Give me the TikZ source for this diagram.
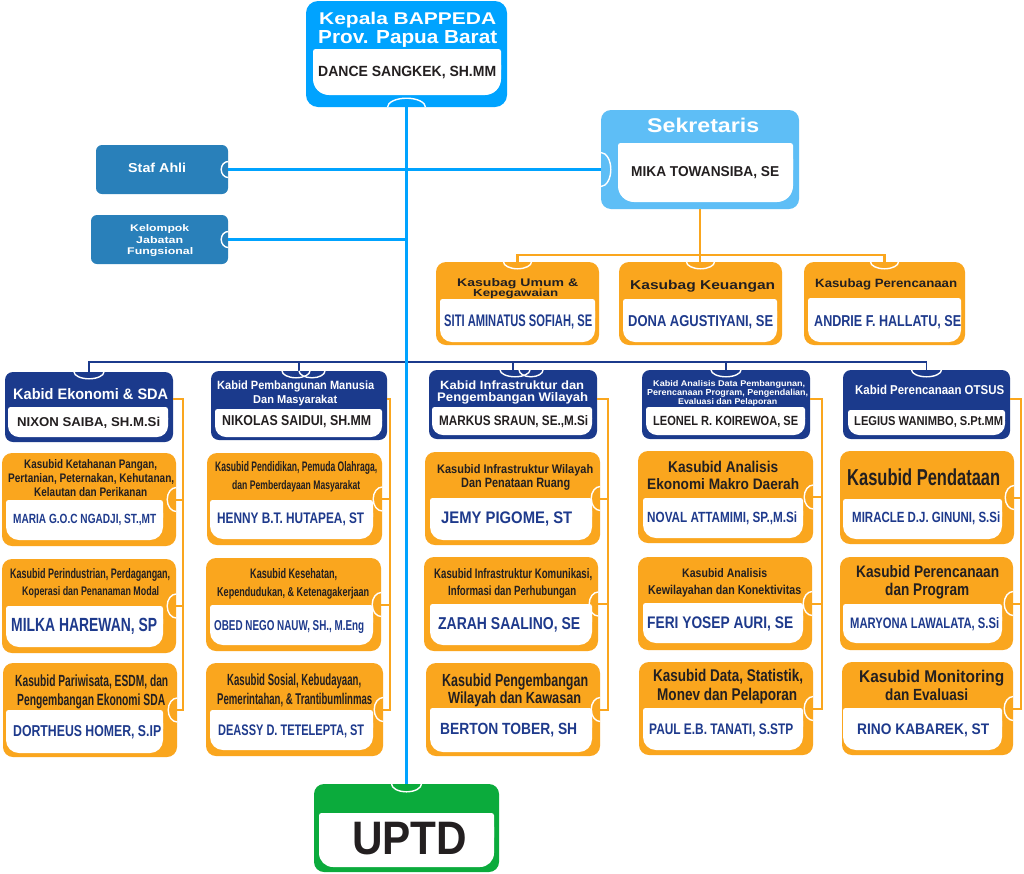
\documentclass[tikz,border=0pt]{standalone}
\usepackage{fontspec}
\setmainfont{Liberation Sans}
\usepackage{graphicx}
\usetikzlibrary{fit,calc}
\definecolor{cblue}{RGB}{0,163,255}
\definecolor{csek}{RGB}{94,190,246}
\definecolor{cstaf}{RGB}{41,128,186}
\definecolor{cnavy}{RGB}{27,58,140}
\definecolor{corange}{RGB}{250,166,30}
\definecolor{cgreen}{RGB}{11,171,60}
\definecolor{cdark}{RGB}{35,31,32}
\definecolor{cname}{RGB}{30,58,140}
% box: [radius]{name}{colour}{x1,y1}{x2,y2}
\newcommand\bx[5][10pt]{\fill[#3,rounded corners=#1] (#4) rectangle (#5);
  \node[inner sep=0pt,fit={(#4)(#5)}] (#2) {};}
% inner white panel
\newcommand\inr[5][12pt]{\fill[white,rounded corners=#1] (#2,#3) rectangle (#4,#5);
  \fill[white,rounded corners=2.5pt] (#2,#3) rectangle (#4,{(#3+#5)/2});}
% text: name, x, baseline, width, height, colour, text
\newcommand\tx[7]{\node[txt,text=#6] (#1) at (#2,#3) {\resizebox{#4pt}{#5pt}{#7}};}
% ports
\newcommand\ptop[3]{\draw[port] ([xshift=-#2pt]#1) arc[start angle=180,end angle=360,x radius=#2pt,y radius=#3pt];}
\newcommand\pbot[3]{\draw[port] ([xshift=-#2pt]#1) arc[start angle=180,end angle=0,x radius=#2pt,y radius=#3pt];}
\newcommand\pright[3]{\draw[port] ([yshift=#2pt]#1) arc[start angle=90,end angle=270,x radius=#3pt,y radius=#2pt];}
\newcommand\pleft[3]{\draw[port] ([yshift=#2pt]#1) arc[start angle=90,end angle=-90,x radius=#3pt,y radius=#2pt];}
\begin{document}
\begin{tikzpicture}[x=1pt,y=-1pt,
  port/.style={draw=white,line width=1.4pt},
  bline/.style={draw=cblue,line width=2.6pt},
  nline/.style={draw=cnavy,line width=1.8pt},
  oline/.style={draw=corange,line width=2pt},
  obus/.style={draw=corange,line width=2.7pt},
  txt/.style={anchor=base west,inner sep=0pt,font=\bfseries}]
\useasboundingbox[fill=white] (0,0) rectangle (1024,873);

% ---------- boxes ----------
\bx[12pt]{kep}{cblue}{306,1}{507,107} \inr[16pt]{313}{49}{501}{95}
\bx[10pt]{sek}{csek}{601,110}{799,209} \inr[16pt]{618}{143}{793}{202}
\bx[6pt]{staf}{cstaf}{96,145}{228,194}
\bx[6pt]{kjf}{cstaf}{91,215}{228,264}
\bx{ks1}{corange}{436,262}{599,345} \inr{440}{299}{595}{342}
\bx{ks2}{corange}{619,262}{782,345} \inr{623}{299}{777}{342}
\bx{ks3}{corange}{804,262}{965,345} \inr{808}{298}{961}{342}

\bx[8pt]{kb1}{cnavy}{5,372}{173,442} \inr[11pt]{8}{407}{168}{437}
\bx[8pt]{kb2}{cnavy}{211,371}{387,440} \inr[11pt]{215}{409}{382}{437}
\bx[8pt]{kb3}{cnavy}{429,370}{597,439} \inr[11pt]{432}{407}{592}{435}
\bx[8pt]{kb4}{cnavy}{642,370}{810,439}
\tx{t42c}{678}{404}{99}{6}{white}{Evaluasi dan Pelaporan}
\inr[11pt]{646}{407}{805}{435}
\bx[8pt]{kb5}{cnavy}{843,370}{1010,439} \inr[11pt]{848}{410}{1005}{435}

\bx{s11}{corange}{2,453}{176,546} \inr[13pt]{6}{500}{163}{540}
\bx{s12}{corange}{2,559}{176,653} \inr[13pt]{6}{606}{163}{647}
\bx{s13}{corange}{3,663}{177,757} \inr[13pt]{6}{710}{163}{753}
\bx{s21}{corange}{207,453}{382,545} \inr[13pt]{210}{500}{373}{539}
\bx{s22}{corange}{206,558}{381,651} \inr[13pt]{210}{605}{373}{645}
\bx{s23}{corange}{206,663}{383,756} \inr[13pt]{210}{710}{373}{750}
\bx{s31}{corange}{425,452}{600,545} \inr[13pt]{430}{498}{592}{540}
\bx{s32}{corange}{424,557}{598,651} \inr[13pt]{430}{604}{592}{645}
\bx{s33}{corange}{426,663}{600,756} \inr[13pt]{430}{708}{592}{752}
\bx{s41}{corange}{638,451}{813,543} \inr[13pt]{643}{498}{803}{538}
\bx{s42}{corange}{638,557}{812,650} \inr[13pt]{643}{603}{803}{643}
\bx{s43}{corange}{639,662}{813,755} \inr[13pt]{643}{708}{803}{750}
\bx{s51}{corange}{840,451}{1014,544} \inr[13pt]{843}{499}{1002}{539}
\bx{s52}{corange}{840,557}{1013,650} \inr[13pt]{843}{604}{1002}{643}
\bx{s53}{corange}{842,662}{1013,755} \inr[13pt]{843}{708}{1002}{750}

\bx[10pt]{uptd}{cgreen}{314,784}{499,872} \inr[14pt]{319}{813}{494}{867}

% ---------- connectors ----------
\coordinate (bus) at (408,362);
\draw[nline] (kb1.north) |- (bus) -| (kb5.north);
\foreach \k in {kb2,kb3,kb4} \draw[nline] (\k.north) -- (\k.north |- bus);
\draw[bline] (kep.south) -- (uptd.north);
\draw[bline] (staf.east) -- (staf.east -| sek.west);
\draw[bline] (kjf.east) -- (kjf.east -| kep.south);
\coordinate (kbus) at (702,255);
\draw[obus] (ks1.north) |- (kbus) -| (ks3.north);
\draw[obus] (sek.south) -- (sek.south |- ks2.north);
\coordinate (c1) at (183,399);
\coordinate (c2) at (390,399);
\coordinate (c3) at (608,399);
\coordinate (c4) at (822,399);
\coordinate (c5) at (1021,399);
\foreach \i in {1,...,5} {
  \draw[oline] (c\i -| kb\i.east) -- (c\i) |- (s\i3.east);
  \draw[oline] (s\i1.east) -- (s\i1.east -| c\i);
  \draw[oline] (s\i2.east) -- (s\i2.east -| c\i);
}

% ---------- ports ----------
\pbot{kep.south}{19}{9}
\coordinate (sekw) at (staf.east -| sek.west);
\pleft{sekw}{17}{10}
\pright{staf.east}{8}{7}
\pright{kjf.east}{8}{7}
\foreach \k in {ks1,ks2,ks3} {\ptop{\k.north}{14}{7}}
\ptop{kb1.north}{15}{7}
\coordinate (p2a) at ($(kb2.north)+(-3,0)$);
\coordinate (p2b) at ($(kb2.north)+(13,0)$);
\coordinate (p3a) at ($(kb3.north)+(2,0)$);
\coordinate (p3b) at ($(kb3.north)+(18,0)$);
\ptop{p2a}{14}{7} \ptop{p2b}{13}{7}
\ptop{p3a}{15}{7} \ptop{p3b}{12}{7}
\ptop{kb4.north}{15}{7}
\ptop{kb5.north}{15}{7}
\foreach \i in {1,...,5} {\foreach \j in {1,2,3} {\pright{s\i\j.east}{12}{9}}}
\ptop{uptd.north}{15}{8}

% ---------- texts ----------
\tx{t01}{319}{24}{177}{12.3}{white}{Kepala BAPPEDA}
\tx{t02}{318}{43}{179}{13}{white}{Prov. Papua Barat}
\tx{t03}{318}{76}{178}{10.3}{cdark}{DANCE SANGKEK, SH.MM}
\tx{t04}{647}{132.7}{112}{14.4}{white}{Sekretaris}
\tx{t05}{631}{176.7}{148}{10}{cdark}{MIKA TOWANSIBA, SE}
\tx{t06}{128}{172.7}{58}{9.4}{white}{Staf Ahli}
\tx{t07}{130}{231.5}{59}{7}{white}{Kelompok}
\tx{t08}{136}{243}{47}{7}{white}{Jabatan}
\tx{t09}{127}{254.5}{66}{7}{white}{Fungsional}

\tx{t10}{457}{286}{121}{8}{cdark}{Kasubag Umum \&}
\tx{t11}{473}{296.7}{85}{7.5}{cdark}{Kepegawaian}
\tx{t12}{444}{326}{148}{11.7}{cname}{SITI AMINATUS SOFIAH, SE}
\tx{t13}{630}{289.3}{145}{9.3}{cdark}{Kasubag Keuangan}
\tx{t14}{628}{326}{145}{11}{cname}{DONA AGUSTIYANI, SE}
\tx{t15}{815}{287.7}{142}{8.7}{cdark}{Kasubag Perencanaan}
\tx{t16}{814}{326}{147}{11}{cname}{ANDRIE F. HALLATU, SE}

% column 1
\tx{t17}{13}{399.3}{155}{11}{white}{Kabid Ekonomi \& SDA}
\tx{t18}{17}{426.7}{143}{9.3}{cdark}{NIXON SAIBA, SH.M.Si}
\tx{t19}{24}{468.3}{133}{9}{cdark}{Kasubid Ketahanan Pangan,}
\tx{t20}{8}{482.7}{166}{9}{cdark}{Pertanian, Peternakan, Kehutanan,}
\tx{t21}{34}{496.7}{113}{9}{cdark}{Kelautan dan Perikanan}
\tx{t22}{13}{523.3}{143}{9.3}{cname}{MARIA G.O.C NGADJI, ST.,MT}
\tx{t23}{10}{578.3}{160}{10}{cdark}{Kasubid Perindustrian, Perdagangan,}
\tx{t24}{22}{595.7}{137}{9}{cdark}{Koperasi dan Penanaman Modal}
\tx{t25}{11}{631.7}{146}{13.3}{cname}{MILKA HAREWAN, SP}
\tx{t26}{15}{686}{153}{11.7}{cdark}{Kasubid Pariwisata, ESDM, dan}
\tx{t27}{17}{705}{148}{11.7}{cdark}{Pengembangan Ekonomi SDA}
\tx{t28}{13}{736}{148}{11}{cname}{DORTHEUS HOMER, S.IP}

% column 2
\tx{t29}{217}{389.3}{157}{8.7}{white}{Kabid Pembangunan Manusia}
\tx{t30}{253}{403.3}{84}{8.3}{white}{Dan Masyarakat}
\tx{t31}{222}{425}{149}{10}{cdark}{NIKOLAS SAIDUI, SH.MM}
\tx{t32}{215}{471.7}{162}{10}{cdark}{Kasubid Pendidikan, Pemuda Olahraga,}
\tx{t33}{232}{489.3}{128}{9}{cdark}{dan Pemberdayaan Masyarakat}
\tx{t34}{217}{523.3}{147}{10.7}{cname}{HENNY B.T. HUTAPEA, ST}
\tx{t35}{250}{578.3}{87}{10}{cdark}{Kasubid Kesehatan,}
\tx{t36}{217}{596}{152}{9.3}{cdark}{Kependudukan, \& Ketenagakerjaan}
\tx{t37}{214}{630.7}{150}{10}{cname}{OBED NEGO NAUW, SH., M.Eng}
\tx{t38}{227}{685}{134}{11.7}{cdark}{Kasubid Sosial, Kebudayaan,}
\tx{t39}{217}{704}{155}{11.3}{cdark}{Pemerintahan, \& Trantibumlinmas}
\tx{t40}{218}{735.7}{146}{10.7}{cname}{DEASSY D. TETELEPTA, ST}

% column 3
\tx{t41}{440}{389.3}{144}{8.7}{white}{Kabid Infrastruktur dan}
\tx{t43}{437}{401.7}{151}{9}{white}{Pengembangan Wilayah}
\tx{t44}{439}{425}{149}{10}{cdark}{MARKUS SRAUN, SE.,M.Si}
\tx{t45}{437}{473.3}{156}{9}{cdark}{Kasubid Infrastruktur Wilayah}
\tx{t46}{461}{487.7}{109}{9.3}{cdark}{Dan Penataan Ruang}
\tx{t47}{441}{523.3}{131}{11.7}{cname}{JEMY PIGOME, ST}
\tx{t48}{434}{578.3}{158}{10}{cdark}{Kasubid Infrastruktur Komunikasi,}
\tx{t49}{448}{595.7}{128}{9.7}{cdark}{Informasi dan Perhubungan}
\tx{t50}{438}{629.3}{142}{12}{cname}{ZARAH SAALINO, SE}
\tx{t51}{442}{686}{146}{12.7}{cdark}{Kasubid Pengembangan}
\tx{t52}{448}{703.3}{133}{11.7}{cdark}{Wilayah dan Kawasan}
\tx{t53}{440}{734}{137}{11.3}{cname}{BERTON TOBER, SH}

% column 4
\tx{t54}{653}{386}{152}{6}{white}{Kabid Analisis Data Pembangunan,}
\tx{t55}{647}{395.7}{161}{6.3}{white}{Perencanaan Program, Pengendalian,}
\tx{t56}{653}{425}{145}{9.3}{cdark}{LEONEL R. KOIREWOA, SE}
\tx{t57}{668}{472.3}{110}{11.3}{cdark}{Kasubid Analisis}
\tx{t58}{647}{489.3}{152}{11}{cdark}{Ekonomi Makro Daerah}
\tx{t59}{647}{522.3}{150}{10.7}{cname}{NOVAL ATTAMIMI, SP.,M.Si}
\tx{t60}{682}{577.3}{85}{9}{cdark}{Kasubid Analisis}
\tx{t61}{648}{594.3}{153}{9.3}{cdark}{Kewilayahan dan Konektivitas}
\tx{t62}{647}{628.3}{146}{11.7}{cname}{FERI YOSEP AURI, SE}
\tx{t63}{653}{681.7}{150}{12.3}{cdark}{Kasubid Data, Statistik,}
\tx{t64}{657}{700.7}{140}{12.3}{cdark}{Monev dan Pelaporan}
\tx{t65}{649}{734}{144}{10.7}{cname}{PAUL E.B. TANATI, S.STP}

% column 5
\tx{t66}{855}{394.3}{149}{9.3}{white}{Kabid Perencanaan OTSUS}
\tx{t67}{854}{425}{149}{9}{cdark}{LEGIUS WANIMBO, S.Pt.MM}
\tx{t68}{847}{485}{153}{16.7}{cdark}{Kasubid Pendataan}
\tx{t69}{852}{522.3}{148}{10.7}{cname}{MIRACLE D.J. GINUNI, S.Si}
\tx{t70}{856}{577.7}{143}{12}{cdark}{Kasubid Perencanaan}
\tx{t71}{885}{595}{84}{12.3}{cdark}{dan Program}
\tx{t72}{850}{628.3}{149}{11}{cname}{MARYONA LAWALATA, S.Si}
\tx{t73}{859}{682.3}{145}{12.3}{cdark}{Kasubid Monitoring}
\tx{t74}{885}{700}{83}{11.7}{cdark}{dan Evaluasi}
\tx{t75}{857}{734}{132}{10.7}{cname}{RINO KABAREK, ST}

\tx{t76}{352}{854}{115}{32.3}{cdark}{UPTD}
\end{tikzpicture}
\end{document}
